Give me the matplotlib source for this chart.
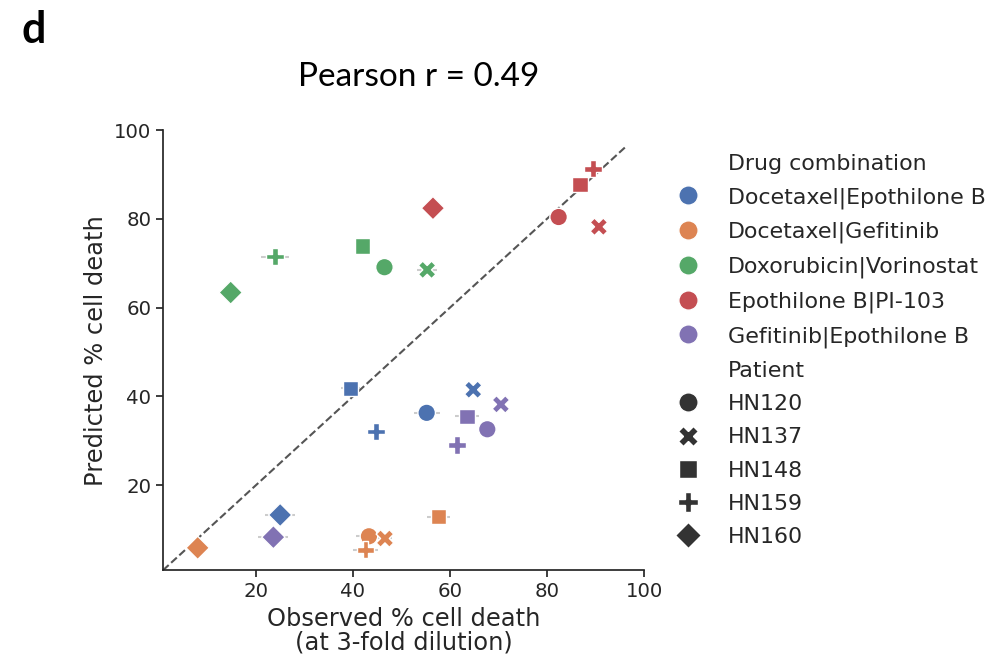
"""Observed vs predicted % cell death, drug combinations x patients."""
import numpy as np
import pandas as pd
import matplotlib
matplotlib.use("Agg")
import matplotlib.pyplot as plt
from matplotlib.markers import MarkerStyle
from matplotlib.transforms import Affine2D
import seaborn as sns

drugs = ["Docetaxel|Epothilone B", "Docetaxel|Gefitinib", "Doxorubicin|Vorinostat",
         "Epothilone B|PI-103", "Gefitinib|Epothilone B"]
patients = ["HN120", "HN137", "HN148", "HN159", "HN160"]

# rows: drug, columns: patient (HN120, HN137, HN148, HN159, HN160)
observed = [
    [55.2, 64.8, 39.5, 44.8, 25.0],
    [43.3, 46.6, 57.6, 42.6, 8.0],
    [46.5, 55.3, 42.0, 23.9, 14.8],
    [82.4, 90.7, 86.8, 89.5, 56.5],
    [67.7, 70.5, 63.5, 61.5, 23.6],
]
predicted = [
    [36.3, 41.5, 41.8, 32.1, 13.3],
    [8.5, 8.0, 12.9, 5.5, 5.9],
    [69.1, 68.5, 73.9, 71.5, 63.4],
    [80.4, 78.2, 87.7, 91.3, 82.4],
    [32.6, 38.2, 35.5, 29.0, 8.3],
]
observed_err = [
    [2.7, 1.0, 2.0, 1.0, 3.1],
    [2.7, 1.5, 2.4, 2.5, 1.0],
    [1.0, 2.0, 1.0, 2.85, 1.0],
    [1.0, 1.0, 1.0, 1.5, 1.0],
    [1.0, 1.0, 2.4, 1.8, 3.1],
]

df = pd.DataFrame({
    "Drug combination": np.repeat(drugs, len(patients)),
    "Patient": np.tile(patients, len(drugs)),
    "observed": np.ravel(observed),
    "predicted": np.ravel(predicted),
    "err": np.ravel(observed_err),
})

sns.set_theme(style="ticks")
plt.rcParams["font.family"] = ["DejaVu Sans"]

# squares a bit smaller so they look the same size as circles
markers = ["o", "X",
           MarkerStyle("s", transform=Affine2D().scale(0.88)),
           "P",
           MarkerStyle("D", transform=Affine2D().scale(0.94))]

fig, ax = plt.subplots(figsize=(10, 6.6), dpi=100)
fig.subplots_adjust(left=0.163, right=0.644, bottom=0.136, top=0.803)

lo, hi = 0.85, 96.5
ax.plot([lo, hi], [lo, hi], ls="--", color="#555555", lw=1.5, zorder=1)
ax.errorbar(df["observed"], df["predicted"], xerr=df["err"], fmt="none",
            ecolor="grey", alpha=0.4, lw=1.5, zorder=2)
sns.scatterplot(data=df, x="observed", y="predicted", hue="Drug combination",
                style="Patient", markers=markers, s=160, ax=ax, zorder=3)

ax.set_xlim(lo, 100)
ax.set_ylim(lo, 100)
ax.set_xticks([20, 40, 60, 80, 100])
ax.set_yticks([20, 40, 60, 80, 100])
ax.tick_params(labelsize=14.2, length=5, width=1.25)
ax.set_xlabel("Observed % cell death\n(at 3-fold dilution)", fontsize=17.4, linespacing=1.0)
ax.set_ylabel("Predicted % cell death", fontsize=17.4)
sns.despine(ax=ax)

sns.move_legend(ax, "upper left", bbox_to_anchor=(1.004, 0.991), frameon=False,
                fontsize=15.9, labelspacing=0.6, markerscale=1.1, title=None)

fig.text(0.419, 1 - 86 / 660, "Pearson r = 0.49", ha="center", va="baseline",
         fontsize=24, family=["Lato", "DejaVu Sans"], color="black")
fig.text(0.0217, 1 - 43.3 / 660, "d", ha="left", va="baseline",
         fontsize=31, fontweight="bold", family=["Lato", "DejaVu Sans"], color="black")

fig.savefig("out.png", dpi=100)
